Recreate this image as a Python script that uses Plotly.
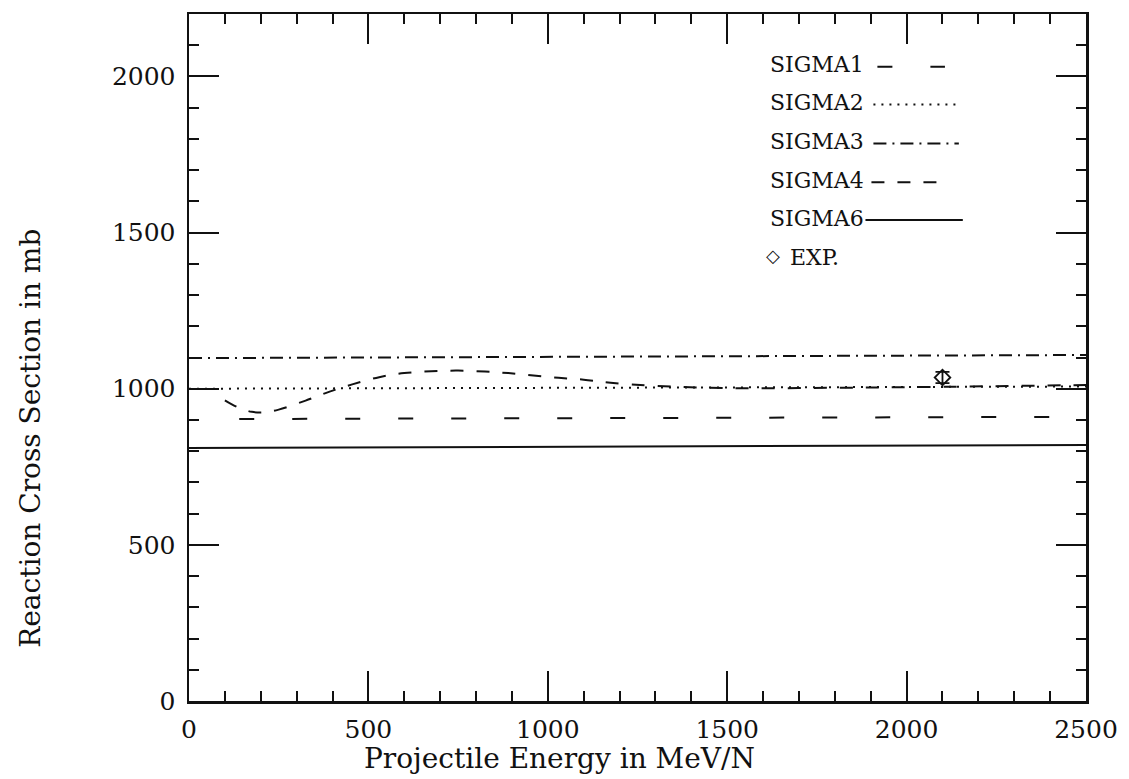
import plotly.graph_objects as go

# ---------------- data ----------------
e_s1 = [140, 2500]
sigma1 = [903, 910]

e_s2 = [0, 2500]
sigma2 = [1000, 1007]

e_s3 = [0, 2500]
sigma3 = [1098, 1108]

e_s4 = [100, 135, 175, 210, 250, 325, 390, 455, 530, 600, 675, 750, 825, 890,
        960, 1030, 1100, 1175, 1300, 1500, 1800, 2100, 2500]
sigma4 = [963, 941, 926, 924, 933, 962, 990, 1014, 1037, 1050, 1056, 1058, 1055,
          1050, 1042, 1035, 1029, 1019, 1009, 1002, 1003, 1006, 1012]

e_s6 = [0, 2500]
sigma6 = [810, 820]

exp_e = [2100]
exp_sigma = [1036]
exp_err = [18]

legend_names = ["SIGMA1", "SIGMA2", "SIGMA3", "SIGMA4", "SIGMA6"]
x_title = "Projectile Energy in MeV/N"
y_title = "Reaction Cross Section in mb"

# ---------------- styling ----------------
W, H = 1129, 779
L, R, T, B = 189, 37, 11, 78
PW, PH = W - L - R, H - T - B
FONT = "DejaVu Serif"
INK = "#111111"

def px2paper_x(px):
    return (px - L) / PW

def px2paper_y(py):
    return (H - B - py) / PH

dashes = {
    "SIGMA1": "15px,38px",
    "SIGMA2": "2px,6px",
    "SIGMA3": "13px,6px,2px,6px",
    "SIGMA4": "13px,13px",
    "SIGMA6": "solid",
}

fig = go.Figure()
series = [("SIGMA1", e_s1, sigma1), ("SIGMA2", e_s2, sigma2),
          ("SIGMA3", e_s3, sigma3), ("SIGMA4", e_s4, sigma4),
          ("SIGMA6", e_s6, sigma6)]
for name, xs, ys in series:
    fig.add_trace(go.Scatter(
        x=xs, y=ys, mode="lines", name=name, showlegend=False, hoverinfo="skip",
        line=dict(color=INK, width=2, dash=dashes[name],
                  shape="spline" if name == "SIGMA4" else "linear")))

fig.add_trace(go.Scatter(
    x=exp_e, y=exp_sigma, mode="markers", name="EXP.", showlegend=False, hoverinfo="skip",
    marker=dict(symbol="diamond-open", size=12, color=INK, line=dict(width=1.8, color=INK)),
    error_y=dict(type="data", array=exp_err, visible=True, color=INK,
                 thickness=1.8, width=7)))

axis_common = dict(
    showline=True, linecolor=INK, linewidth=2.5, mirror="ticks",
    ticks="inside", ticklen=30, tickwidth=2, tickcolor=INK,
    showgrid=False, zeroline=False,
    tickfont=dict(family=FONT, size=25, color=INK),
    minor=dict(dtick=100, ticks="inside", ticklen=10, tickwidth=2, tickcolor=INK),
)

fig.update_xaxes(range=[0, 2500], dtick=500, tick0=0, ticklabelstandoff=4, **axis_common)
fig.update_yaxes(range=[0, 2200], dtick=500, tick0=0, ticklabelstandoff=6, **axis_common)

annotations = []
shapes = []

# axis titles
annotations.append(dict(
    text=x_title, xref="paper", yref="paper",
    x=px2paper_x(363), y=px2paper_y(759), xanchor="left", yanchor="middle",
    showarrow=False, font=dict(family=FONT, size=28, color=INK)))
annotations.append(dict(
    text=y_title, xref="paper", yref="paper", textangle=-90,
    x=px2paper_x(30), y=px2paper_y(650), xanchor="center", yanchor="bottom",
    showarrow=False, font=dict(family=FONT, size=28, color=INK)))

# legend (text followed by line sample)
leg_rows_y = [62, 100, 139, 178, 216]
leg_text_x = 772
leg_line = {"SIGMA1": (882, 950), "SIGMA2": (878, 964), "SIGMA3": (878, 964),
            "SIGMA4": (876, 952), "SIGMA6": (870, 968)}
for name, yy in zip(legend_names, leg_rows_y):
    annotations.append(dict(
        text=name, xref="paper", yref="paper",
        x=px2paper_x(leg_text_x), y=px2paper_y(yy), xanchor="left", yanchor="middle",
        showarrow=False, font=dict(family=FONT, size=22, color=INK)))
    x0, x1 = leg_line[name]
    shapes.append(dict(
        type="line", xref="paper", yref="paper",
        x0=px2paper_x(x0), x1=px2paper_x(x1),
        y0=px2paper_y(yy + 2), y1=px2paper_y(yy + 2),
        line=dict(color=INK, width=2, dash=dashes[name])))

# EXP legend entry
annotations.append(dict(
    text="\u25c7", xref="paper", yref="paper",
    x=px2paper_x(777), y=px2paper_y(254), xanchor="center", yanchor="middle",
    showarrow=False, font=dict(family="DejaVu Sans", size=18, color=INK)))
annotations.append(dict(
    text="EXP.", xref="paper", yref="paper",
    x=px2paper_x(792), y=px2paper_y(256), xanchor="left", yanchor="middle",
    showarrow=False, font=dict(family=FONT, size=22, color=INK)))

fig.update_layout(
    width=W, height=H,
    margin=dict(l=L, r=R, t=T, b=B, pad=0),
    paper_bgcolor="white", plot_bgcolor="white",
    showlegend=False, hovermode=False,
    annotations=annotations, shapes=shapes,
)

fig.write_html(
    "out.html",
    config={"displayModeBar": False, "staticPlot": True},
    post_script="document.body.style.margin='0';document.body.style.overflow='hidden';",
)
